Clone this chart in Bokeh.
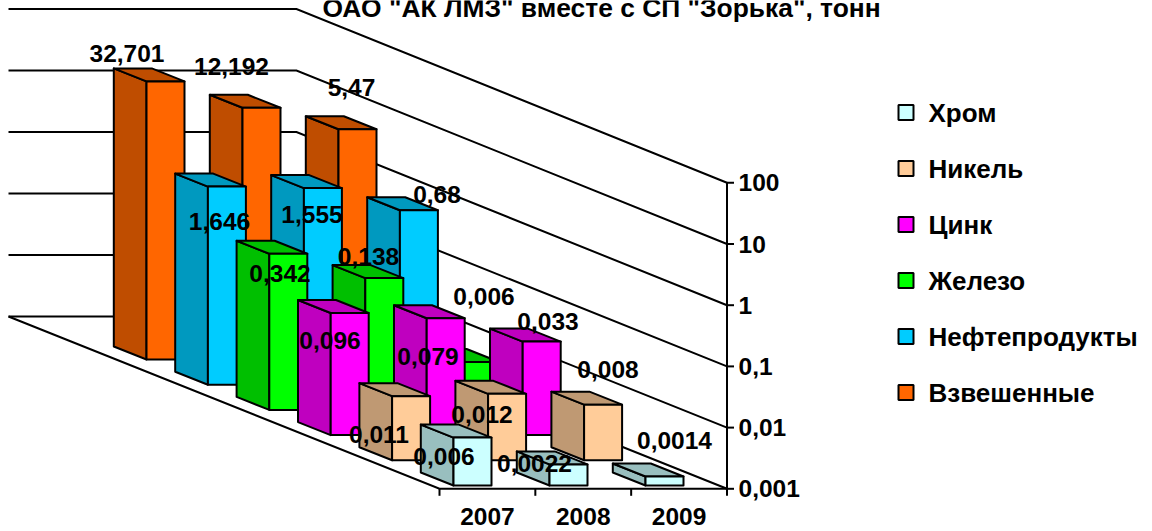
import math
from bokeh.core.properties import value
from bokeh.embed import file_html
from bokeh.models import ColumnDataSource, Range1d
from bokeh.plotting import figure
from bokeh.resources import INLINE

# ---------- data ----------
years = ["2007", "2008", "2009"]
series_names = ["Взвешенные", "Нефтепродукты", "Железо", "Цинк", "Никель", "Хром"]
vzveshennye = [32.701, 12.192, 5.47]
nefteprodukty = [1.646, 1.555, 0.68]
zhelezo = [0.342, 0.138, 0.006]
tsink = [0.096, 0.079, 0.033]
nikel = [0.011, 0.012, 0.008]
khrom = [0.006, 0.0022, 0.0014]
value_labels = [
    ["32,701", "12,192", "5,47"],
    ["1,646", "1,555", "0,68"],
    ["0,342", "0,138", "0,006"],
    ["0,096", "0,079", "0,033"],
    ["0,011", "0,012", "0,008"],
    ["0,006", "0,0022", "0,0014"],
]
axis_ticks = [0.001, 0.01, 0.1, 1, 10, 100]
axis_tick_labels = ["0,001", "0,01", "0,1", "1", "10", "100"]
title_text = 'ОАО "АК ЛМЗ" вместе с СП "Зорька", тонн'

# ---------- style ----------
front_colors = ["#FF6600", "#00CCFF", "#00FF00", "#FF00FF", "#FFCC99", "#CCFFFF"]
side_colors = ["#BF4D00", "#0099BF", "#00BF00", "#BF00BF", "#BF9973", "#99BFBF"]
FONT = value("Liberation Sans")
LABEL_PX = "24.5px"
LEGEND_PX = "26px"
LINE = 2

# ---------- projection ----------
W, H = 1152, 531
BAR_X0, BAR_DX_SERIES, BAR_DX_YEAR = 146.0, 61.4, 96.0
BAR_Y0, BAR_DY_SERIES = 359.0, 25.2
BAR_W, DEPTH_X, DEPTH_Y = 38.0, 32.7, 13.0
DECADE = 61.6


def height(v):
    return (math.log10(v) + 3) * DECADE


# label offset from each bar's top front-left corner, as placed in the original
label_dx = [[-19.5, -11, 13], [11.6, 8.1, 37.1], [10.7, 3.2, 22.7],
            [-0.7, 1.3, 25.3], [-13.1, -6.1, 23.9], [-9.5, -15, 29]]
label_dy = [[-28.4, -41.3, -42.2], [34.9, 26.4, -15.7], [19.2, -21.6, -65.5],
            [27.5, 38.3, -20.1], [38.4, 20.7, -35.2], [18.9, -1.4, -35.5]]

p = figure(width=W, height=H, output_backend="svg", toolbar_location=None,
           x_range=Range1d(0, W), y_range=Range1d(H, 0),
           min_border=0, min_border_left=0, min_border_right=0,
           min_border_top=0, min_border_bottom=0)
p.xaxis.visible = False
p.yaxis.visible = False
p.grid.visible = False
p.outline_line_color = None
p.background_fill_color = "white"
p.border_fill_color = "white"

# ---------- walls and floor ----------
BACK_LEFT, BACK_RIGHT, FRONT_LEFT, FRONT_RIGHT = 8.0, 296.0, 439.0, 726.5
BACK_FLOOR, FRONT_FLOOR = 316.0, 488.3
BACK_DEC, FRONT_DEC = 61.5, 61.2

gx, gy = [], []
for t in axis_ticks:
    d = math.log10(t) + 3
    gx.append([BACK_LEFT, BACK_RIGHT, FRONT_RIGHT])
    gy.append([BACK_FLOOR - d * BACK_DEC, BACK_FLOOR - d * BACK_DEC, FRONT_FLOOR - d * FRONT_DEC])
gx.append([BACK_LEFT, FRONT_LEFT, FRONT_RIGHT])
gy.append([BACK_FLOOR, FRONT_FLOOR, FRONT_FLOOR])
p.multi_line(gx, gy, line_color="black", line_width=LINE, line_join="miter")

# axis line, ticks and tick labels
p.line([FRONT_RIGHT, FRONT_RIGHT], [FRONT_FLOOR + 7, FRONT_FLOOR - 5 * FRONT_DEC],
       line_color="black", line_width=LINE)
for t, lab in zip(axis_ticks, axis_tick_labels):
    y = FRONT_FLOOR - (math.log10(t) + 3) * FRONT_DEC
    p.line([FRONT_RIGHT, FRONT_RIGHT + 7], [y, y], line_color="black", line_width=LINE)
    p.text([738], [y], text=[lab], text_font=FONT, text_font_style="bold",
           text_font_size=LABEL_PX, text_color="black", text_baseline="middle")
step = (FRONT_RIGHT - FRONT_LEFT) / 3
for j in range(3):
    x = FRONT_LEFT + j * step
    p.line([x, x], [FRONT_FLOOR, FRONT_FLOOR + 7], line_color="black", line_width=LINE)
    p.text([x + step / 2], [FRONT_FLOOR + 27.5], text=[years[j]], text_font=FONT,
           text_font_style="bold", text_font_size=LABEL_PX, text_color="black",
           text_align="center", text_baseline="middle")

# ---------- bars, back to front ----------
table = [vzveshennye, nefteprodukty, zhelezo, tsink, nikel, khrom]
for k, vals in enumerate(table):
    for j, v in enumerate(vals):
        xl = BAR_X0 + BAR_DX_SERIES * k + BAR_DX_YEAR * j
        yb = BAR_Y0 + BAR_DY_SERIES * k
        yt = yb - height(v)
        xr = xl + BAR_W
        bx, dy = xl - DEPTH_X, -DEPTH_Y
        # side face and top face share the dark tone
        src = ColumnDataSource(dict(
            xs=[[bx, xl, xl, bx], [bx, bx + BAR_W, xr, xl], [xl, xr, xr, xl]],
            ys=[[yb + dy, yb, yt, yt + dy], [yt + dy, yt + dy, yt, yt], [yb, yb, yt, yt]],
            fill=[side_colors[k], side_colors[k], front_colors[k]],
        ))
        p.patches("xs", "ys", source=src, fill_color="fill", line_color="black",
                  line_width=LINE, line_join="round")

# ---------- value labels ----------
for k, vals in enumerate(table):
    for j, v in enumerate(vals):
        xl = BAR_X0 + BAR_DX_SERIES * k + BAR_DX_YEAR * j
        yt = BAR_Y0 + BAR_DY_SERIES * k - height(v)
        p.text([xl + label_dx[k][j]], [yt + label_dy[k][j]], text=[value_labels[k][j]],
               text_font=FONT, text_font_style="bold", text_font_size=LABEL_PX,
               text_color="black", text_align="center", text_baseline="middle")

# ---------- legend, top entry is the front series ----------
LEG_X, LEG_Y, LEG_STEP, SW = 898.0, 112.0, 56.0, 15.0
for i, k in enumerate(reversed(range(6))):
    yc = LEG_Y + i * LEG_STEP
    p.quad(left=[LEG_X], right=[LEG_X + SW], top=[yc - SW / 2], bottom=[yc + SW / 2],
           fill_color=front_colors[k], line_color="black", line_width=LINE)
    p.text([928], [yc], text=[series_names[k]], text_font=FONT, text_font_style="bold",
           text_font_size=LEGEND_PX, text_color="black", text_baseline="middle")

# ---------- title ----------
p.text([322], [7], text=[title_text], text_font=FONT, text_font_style="bold",
       text_font_size="26.4px", text_color="black", text_baseline="middle")

open("out.html", "w").write(file_html(p, INLINE))
